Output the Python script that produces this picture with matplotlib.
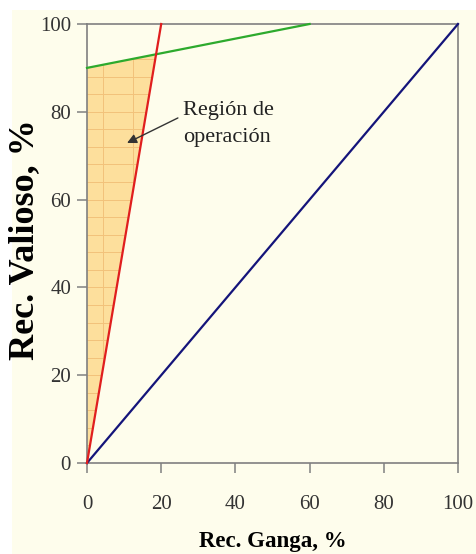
import numpy as np
import matplotlib
matplotlib.use("Agg")
import matplotlib.pyplot as plt
from matplotlib.patches import Rectangle, Polygon

# Recovery lines (x = gangue recovery %, y = valuable recovery %)
blue_x = [0, 100]
blue_y = [0, 100]
red_x = [0, 20]
red_y = [0, 100]
green_x = [0, 60]
green_y = [90, 100]

x_ticks = [0, 20, 40, 60, 80, 100]
y_ticks = [0, 20, 40, 60, 80, 100]

cream = "#FEFDEC"
serif = ["Liberation Serif", "DejaVu Serif"]

fig = plt.figure(figsize=(4.76, 5.54), dpi=100, facecolor="white")
fig.patches.append(Rectangle((12 / 476, 0), 1 - 12 / 476, 1 - 10 / 554,
                             transform=fig.transFigure, facecolor=cream,
                             edgecolor="none", zorder=-10))

ax = fig.add_axes([87 / 476, 1 - 463 / 554, 371 / 476, 439 / 554])
ax.set_facecolor(cream)
ax.set_xlim(0, 100)
ax.set_ylim(0, 100)

# Intersection of the red and green lines bounds the operating region
m_r = (red_y[1] - red_y[0]) / (red_x[1] - red_x[0])
m_g = (green_y[1] - green_y[0]) / (green_x[1] - green_x[0])
xi = (green_y[0] - red_y[0]) / (m_r - m_g)
yi = red_y[0] + m_r * xi

region = Polygon([(0, red_y[0]), (xi, yi), (0, green_y[0])], closed=True,
                 facecolor="#FDDF9C", edgecolor="none", zorder=1)
ax.add_patch(region)

# light grid inside the operating region
for gy in np.arange(4, 100, 4):
    ln, = ax.plot([0, 100], [gy, gy], color="#F2C27A", lw=0.7, zorder=1.5)
    ln.set_clip_path(region)
for gx in [4.3, 12.4]:
    ln, = ax.plot([gx, gx], [0, 100], color="#F2C27A", lw=0.7, zorder=1.5)
    ln.set_clip_path(region)

ax.plot(blue_x, blue_y, color="#14147A", lw=1.6, zorder=3, clip_on=False)
ax.plot(green_x, green_y, color="#2DAA2D", lw=1.6, zorder=3, clip_on=False)
ax.plot(red_x, red_y, color="#E01E1E", lw=1.6, zorder=4, clip_on=False)

ax.text(25.9, 77.2, "Región de\noperación", fontsize=16, family=serif,
        color="#222222", ha="left", va="center", linespacing=1.55, zorder=5)
ax.annotate("", xy=(10.8, 72.9), xytext=(24.5, 78.6),
            arrowprops=dict(arrowstyle="-|>", color="#333333", lw=1.0,
                            mutation_scale=14, shrinkA=0, shrinkB=0),
            zorder=5)

for s in ax.spines.values():
    s.set_color("#808080")
    s.set_linewidth(1.2)

ax.set_xticks(x_ticks)
ax.set_yticks(y_ticks)
ax.tick_params(axis="both", direction="out", length=7, width=1.1,
               color="#808080", labelsize=15, labelcolor="#333333")
ax.tick_params(axis="x", pad=16)
ax.tick_params(axis="y", pad=4.5)
for lab in ax.get_xticklabels() + ax.get_yticklabels():
    lab.set_family(serif)

fig.text(272.5 / 476, 1 - 541 / 554, "Rec. Ganga, %", fontsize=16.5,
         fontweight="bold", family=serif, ha="center", va="center")
fig.text(25 / 476, 1 - 240 / 554, "Rec. Valioso, %", fontsize=26,
         fontweight="bold", family=serif, ha="center", va="center",
         rotation=90)

fig.savefig("out.png", dpi=100, facecolor=fig.get_facecolor())
